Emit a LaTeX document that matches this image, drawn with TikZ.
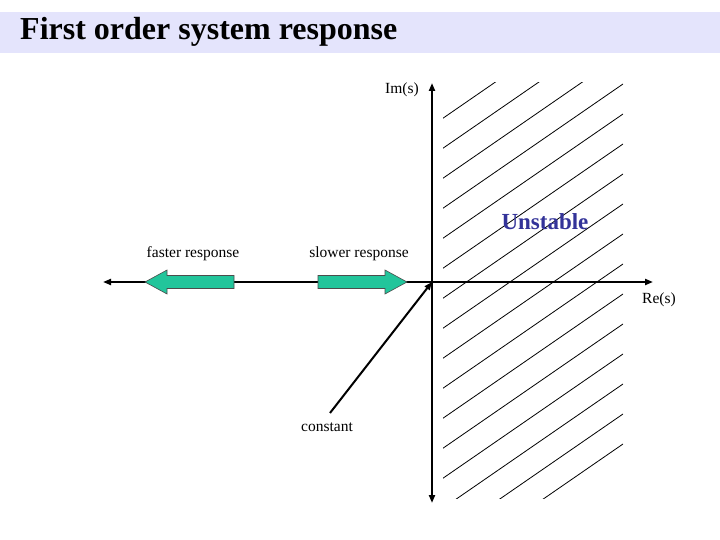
\documentclass[tikz,border=0pt]{standalone}
\usepackage{fontspec}
\setmainfont{Liberation Serif}
\usetikzlibrary{arrows.meta}
\definecolor{band}{RGB}{228,228,252}
\definecolor{teal}{RGB}{34,197,155}
\definecolor{unst}{RGB}{51,51,153}
\tikzset{
  lbl/.style={inner sep=0pt, font=\fontsize{15.5}{17}\selectfont},
  axis/.style={line width=2pt, {Triangle[length=8pt,width=6pt]}-{Triangle[length=8pt,width=6pt]}},
  hatch/.style={line width=0.8pt},
  fatarrow/.style={fill=teal, draw=black!70, line width=0.6pt},
  conn/.style={line width=2pt, -{Triangle[length=8pt,width=6pt]}}
}
\begin{document}
\begin{tikzpicture}[x=1pt,y=-1pt]
\useasboundingbox (0,0) rectangle (720,540);
\fill[white] (0,0) rectangle (720,540);
% title band
\fill[band] (0,12) rectangle (720,53);
\node[anchor=west, inner sep=0pt, font=\fontsize{32}{35}\bfseries] (title) at (20,32) {First order system response};
% hatching
\begin{scope}
\clip (443,83) rectangle (624,498);
\foreach \k in {-3,...,12} {
  \draw[hatch] (623,{84+30*\k}) -- ++(-260,{0.69*260});
}
\end{scope}
% axis coordinates
\coordinate (O) at (432,282);
\coordinate (xl) at (103,282);
\coordinate (xr) at (653,282);
\coordinate (yt) at (432,83);
\coordinate (yb) at (432,503);
\draw[axis] (xl) -- (xr);
\draw[axis] (yb) -- (yt);
% fat arrows
\draw[fatarrow] (234,275.5) -- (167,275.5) -- (167,270) -- (145,282) -- (167,294) -- (167,288.5) -- (234,288.5) -- cycle;
\draw[fatarrow] (318,275.5) -- (385,275.5) -- (385,270) -- (407,282) -- (385,294) -- (385,288.5) -- (318,288.5) -- cycle;
% labels
\node[lbl] (im) at (402,90) {Im(s)};
\node[lbl] (re) at (659,300) {Re(s)};
\node[lbl] (faster) at (193,254) {faster response};
\node[lbl] (slower) at (359,254) {slower response};
\node[lbl] (const) at (327,427) {constant};
\node[inner sep=0pt, font=\fontsize{23}{26}\bfseries, text=unst] (unstable) at (545,222) {Unstable};
% constant line
\coordinate (cs) at (330,413);
\draw[conn] (cs) -- (O);
\end{tikzpicture}
\end{document}
